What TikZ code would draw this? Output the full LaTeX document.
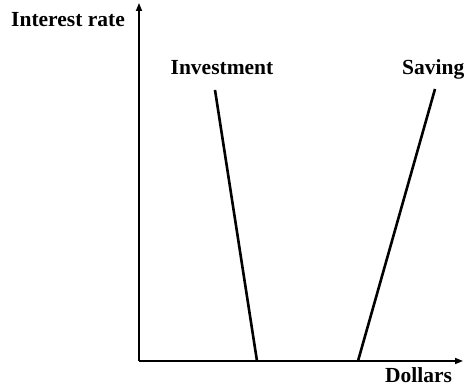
\documentclass[tikz,border=0pt]{standalone}
\usepackage{fontspec}
\setmainfont{Liberation Serif}
\usetikzlibrary{arrows.meta,positioning}

\begin{document}
\begin{tikzpicture}[
  x=1pt,y=1pt,
  axis/.style={line width=1.6pt,-{Triangle[length=8pt,width=6pt]}},
  schedule/.style={line width=2.6pt},
  lbl/.style={inner sep=0pt,font=\fontsize{21.5}{24}\selectfont\bfseries}
]
  \useasboundingbox (0,0) rectangle (464,388);
  \coordinate (origin) at (139,27);
  \coordinate (ytop) at (139,385);
  \coordinate (xend) at (463,27);
  \coordinate (invtop) at (215,298);
  \coordinate (invbot) at (257,27);
  \coordinate (savtop) at (435,299);
  \coordinate (savbot) at (358,27);

  \node[lbl,anchor=base west] (rate) at (11,361) {Interest rate};
  \node[lbl,anchor=base] (invlbl) at (222,313) {Investment};
  \node[lbl,anchor=base west] (savlbl) at (402,313) {Saving};
  \node[lbl,anchor=base west] (dollars) at (385,5) {Dollars};

  \draw[axis] (origin) -- (ytop);
  \draw[axis] (origin) -- (xend);
  \draw[schedule] (invtop) -- (invbot);
  \draw[schedule] (savtop) -- (savbot);
\end{tikzpicture}
\end{document}
